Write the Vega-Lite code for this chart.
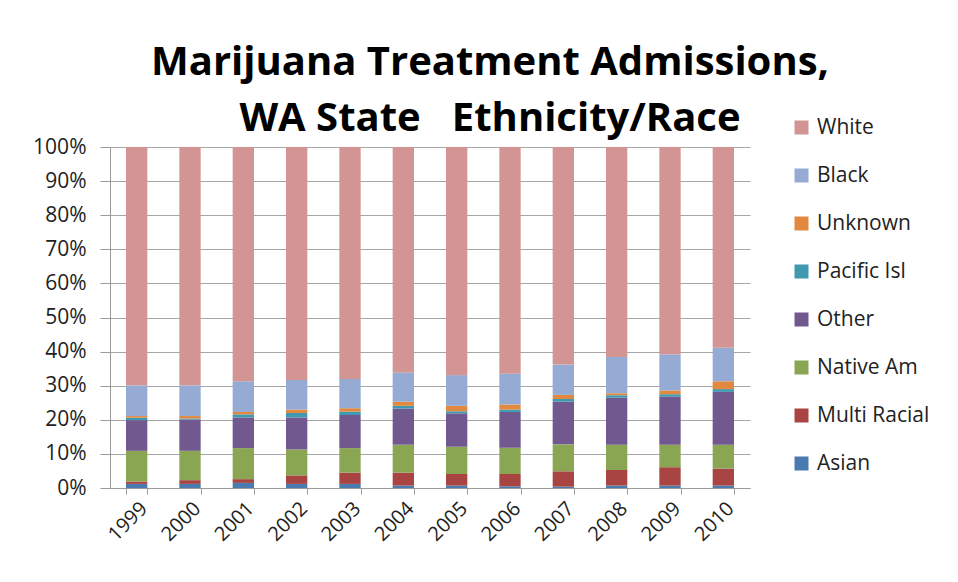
{
  "$schema": "https://vega.github.io/schema/vega-lite/v6.json",
  "width": 640,
  "height": 341,
  "autosize": {"type": "none"},
  "padding": {"left": 110, "top": 147, "right": 208, "bottom": 94},
  "background": "white",
  "title": {
    "text": ["Marijuana Treatment Admissions,", "WA State\u00a0\u00a0\u00a0Ethnicity/Race"],
    "font": "Open Sans",
    "fontSize": 40,
    "fontWeight": "bold",
    "color": "#000000",
    "anchor": "middle",
    "dx": 60,
    "lineHeight": 56,
    "offset": -22
  },
  "data": {
    "values": [
      {"y": "1999", "g": "Asian", "v": 1.2, "r": 1},
      {"y": "1999", "g": "Multi Racial", "v": 0.7, "r": 2},
      {"y": "1999", "g": "Native Am", "v": 9.0, "r": 3},
      {"y": "1999", "g": "Other", "v": 9.0, "r": 4},
      {"y": "1999", "g": "Pacific Isl", "v": 0.7, "r": 5},
      {"y": "1999", "g": "Unknown", "v": 0.5, "r": 6},
      {"y": "1999", "g": "Black", "v": 9.0, "r": 7},
      {"y": "1999", "g": "White", "v": 69.9, "r": 8},
      {"y": "2000", "g": "Asian", "v": 1.2, "r": 1},
      {"y": "2000", "g": "Multi Racial", "v": 1.1, "r": 2},
      {"y": "2000", "g": "Native Am", "v": 8.6, "r": 3},
      {"y": "2000", "g": "Other", "v": 9.2, "r": 4},
      {"y": "2000", "g": "Pacific Isl", "v": 0.3, "r": 5},
      {"y": "2000", "g": "Unknown", "v": 0.7, "r": 6},
      {"y": "2000", "g": "Black", "v": 9.0, "r": 7},
      {"y": "2000", "g": "White", "v": 69.9, "r": 8},
      {"y": "2001", "g": "Asian", "v": 1.5, "r": 1},
      {"y": "2001", "g": "Multi Racial", "v": 1.1, "r": 2},
      {"y": "2001", "g": "Native Am", "v": 9.1, "r": 3},
      {"y": "2001", "g": "Other", "v": 9.0, "r": 4},
      {"y": "2001", "g": "Pacific Isl", "v": 0.9, "r": 5},
      {"y": "2001", "g": "Unknown", "v": 0.7, "r": 6},
      {"y": "2001", "g": "Black", "v": 9.0, "r": 7},
      {"y": "2001", "g": "White", "v": 68.7, "r": 8},
      {"y": "2002", "g": "Asian", "v": 1.2, "r": 1},
      {"y": "2002", "g": "Multi Racial", "v": 2.5, "r": 2},
      {"y": "2002", "g": "Native Am", "v": 7.6, "r": 3},
      {"y": "2002", "g": "Other", "v": 9.4, "r": 4},
      {"y": "2002", "g": "Pacific Isl", "v": 1.3, "r": 5},
      {"y": "2002", "g": "Unknown", "v": 1.0, "r": 6},
      {"y": "2002", "g": "Black", "v": 8.7, "r": 7},
      {"y": "2002", "g": "White", "v": 68.3, "r": 8},
      {"y": "2003", "g": "Asian", "v": 1.2, "r": 1},
      {"y": "2003", "g": "Multi Racial", "v": 3.3, "r": 2},
      {"y": "2003", "g": "Native Am", "v": 7.2, "r": 3},
      {"y": "2003", "g": "Other", "v": 9.7, "r": 4},
      {"y": "2003", "g": "Pacific Isl", "v": 1.0, "r": 5},
      {"y": "2003", "g": "Unknown", "v": 1.0, "r": 6},
      {"y": "2003", "g": "Black", "v": 8.6, "r": 7},
      {"y": "2003", "g": "White", "v": 68.0, "r": 8},
      {"y": "2004", "g": "Asian", "v": 0.7, "r": 1},
      {"y": "2004", "g": "Multi Racial", "v": 3.8, "r": 2},
      {"y": "2004", "g": "Native Am", "v": 8.2, "r": 3},
      {"y": "2004", "g": "Other", "v": 10.6, "r": 4},
      {"y": "2004", "g": "Pacific Isl", "v": 0.8, "r": 5},
      {"y": "2004", "g": "Unknown", "v": 1.2, "r": 6},
      {"y": "2004", "g": "Black", "v": 8.6, "r": 7},
      {"y": "2004", "g": "White", "v": 66.1, "r": 8},
      {"y": "2005", "g": "Asian", "v": 0.7, "r": 1},
      {"y": "2005", "g": "Multi Racial", "v": 3.4, "r": 2},
      {"y": "2005", "g": "Native Am", "v": 8.0, "r": 3},
      {"y": "2005", "g": "Other", "v": 9.8, "r": 4},
      {"y": "2005", "g": "Pacific Isl", "v": 0.6, "r": 5},
      {"y": "2005", "g": "Unknown", "v": 1.6, "r": 6},
      {"y": "2005", "g": "Black", "v": 9.0, "r": 7},
      {"y": "2005", "g": "White", "v": 66.9, "r": 8},
      {"y": "2006", "g": "Asian", "v": 0.5, "r": 1},
      {"y": "2006", "g": "Multi Racial", "v": 3.6, "r": 2},
      {"y": "2006", "g": "Native Am", "v": 7.7, "r": 3},
      {"y": "2006", "g": "Other", "v": 10.5, "r": 4},
      {"y": "2006", "g": "Pacific Isl", "v": 0.7, "r": 5},
      {"y": "2006", "g": "Unknown", "v": 1.5, "r": 6},
      {"y": "2006", "g": "Black", "v": 9.0, "r": 7},
      {"y": "2006", "g": "White", "v": 66.5, "r": 8},
      {"y": "2007", "g": "Asian", "v": 0.4, "r": 1},
      {"y": "2007", "g": "Multi Racial", "v": 4.5, "r": 2},
      {"y": "2007", "g": "Native Am", "v": 7.9, "r": 3},
      {"y": "2007", "g": "Other", "v": 12.5, "r": 4},
      {"y": "2007", "g": "Pacific Isl", "v": 0.8, "r": 5},
      {"y": "2007", "g": "Unknown", "v": 1.2, "r": 6},
      {"y": "2007", "g": "Black", "v": 8.9, "r": 7},
      {"y": "2007", "g": "White", "v": 63.8, "r": 8},
      {"y": "2008", "g": "Asian", "v": 0.7, "r": 1},
      {"y": "2008", "g": "Multi Racial", "v": 4.6, "r": 2},
      {"y": "2008", "g": "Native Am", "v": 7.4, "r": 3},
      {"y": "2008", "g": "Other", "v": 13.8, "r": 4},
      {"y": "2008", "g": "Pacific Isl", "v": 0.7, "r": 5},
      {"y": "2008", "g": "Unknown", "v": 0.6, "r": 6},
      {"y": "2008", "g": "Black", "v": 10.6, "r": 7},
      {"y": "2008", "g": "White", "v": 61.6, "r": 8},
      {"y": "2009", "g": "Asian", "v": 0.7, "r": 1},
      {"y": "2009", "g": "Multi Racial", "v": 5.4, "r": 2},
      {"y": "2009", "g": "Native Am", "v": 6.6, "r": 3},
      {"y": "2009", "g": "Other", "v": 14.1, "r": 4},
      {"y": "2009", "g": "Pacific Isl", "v": 0.7, "r": 5},
      {"y": "2009", "g": "Unknown", "v": 1.1, "r": 6},
      {"y": "2009", "g": "Black", "v": 10.6, "r": 7},
      {"y": "2009", "g": "White", "v": 60.8, "r": 8},
      {"y": "2010", "g": "Asian", "v": 0.7, "r": 1},
      {"y": "2010", "g": "Multi Racial", "v": 5.0, "r": 2},
      {"y": "2010", "g": "Native Am", "v": 7.0, "r": 3},
      {"y": "2010", "g": "Other", "v": 15.5, "r": 4},
      {"y": "2010", "g": "Pacific Isl", "v": 0.8, "r": 5},
      {"y": "2010", "g": "Unknown", "v": 2.3, "r": 6},
      {"y": "2010", "g": "Black", "v": 9.8, "r": 7},
      {"y": "2010", "g": "White", "v": 58.9, "r": 8}
    ]
  },
  "mark": {"type": "bar"},
  "encoding": {
    "x": {
      "field": "y",
      "type": "ordinal",
      "scale": {"paddingInner": 0.6, "paddingOuter": 0.3},
      "axis": {
        "title": null,
        "labelAngle": -45,
        "labelFont": "Open Sans",
        "labelFontSize": 20,
        "labelColor": "#222222",
        "tickBand": "extent",
        "tickSize": 6,
        "tickColor": "#9a9a9a",
        "domainColor": "#9a9a9a",
        "labelPadding": 4
      }
    },
    "y": {
      "field": "v",
      "type": "quantitative",
      "stack": "normalize",
      "scale": {"domain": [0, 1]},
      "axis": {
        "title": null,
        "format": ".0%",
        "values": [0, 0.1, 0.2, 0.3, 0.4, 0.5, 0.6, 0.7, 0.8, 0.9, 1],
        "labelFont": "Open Sans",
        "labelFontSize": 21,
        "labelColor": "#222222",
        "grid": true,
        "gridColor": "#a6a6a6",
        "tickColor": "#9a9a9a",
        "domainColor": "#9a9a9a",
        "tickSize": 10,
        "labelPadding": 14
      }
    },
    "color": {
      "field": "g",
      "type": "nominal",
      "scale": {
        "domain": ["White", "Black", "Unknown", "Pacific Isl", "Other", "Native Am", "Multi Racial", "Asian"],
        "range": ["#d39494", "#95abd3", "#e0893f", "#3f99b0", "#715990", "#8ba653", "#a84543", "#4a7ab0"]
      },
      "legend": {
        "title": null,
        "orient": "none",
        "legendX": 681,
        "legendY": -30,
        "symbolType": "square",
        "symbolSize": 196,
        "symbolStrokeWidth": 0,
        "labelFont": "Open Sans",
        "labelFontSize": 21,
        "labelColor": "#222222",
        "labelOffset": 5,
        "rowPadding": 26
      }
    },
    "order": {"field": "r", "type": "quantitative"}
  },
  "config": {"view": {"stroke": null}}
}
